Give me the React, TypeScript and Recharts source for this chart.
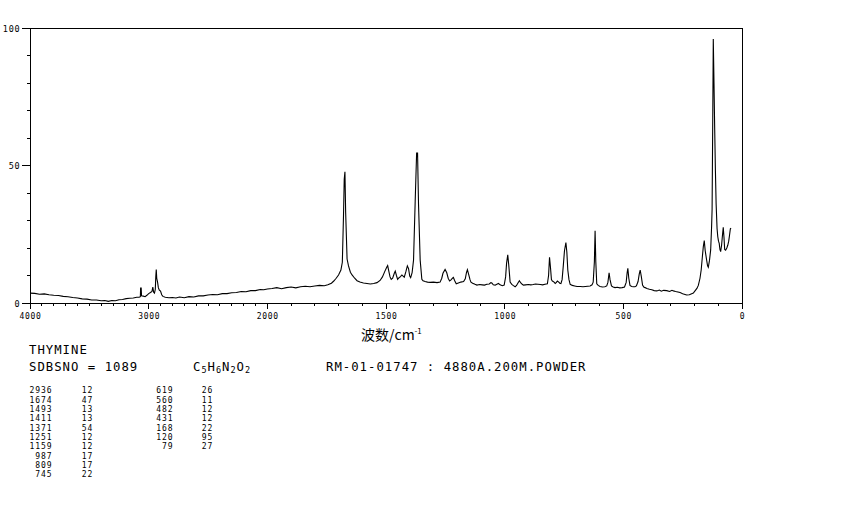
import React from 'react';
import { LineChart, Line, XAxis, YAxis, ReferenceArea } from 'recharts';

// Raman spectrum of thymine: [wavenumber (cm-1), relative intensity]
const ramanPoints: [number, number][] = [
  [4000, 3.6], [3960, 3.5], [3920, 3.2], [3880, 3.3], [3840, 3.0], [3800, 2.8], [3760, 2.7],
  [3720, 2.4], [3680, 2.3], [3640, 2.0], [3600, 1.8], [3560, 1.5], [3520, 1.4], [3480, 1.1],
  [3440, 1.1], [3400, 0.8], [3370, 0.9], [3340, 0.6], [3310, 0.9], [3280, 0.8], [3250, 1.2],
  [3220, 1.3], [3190, 1.6], [3160, 1.7], [3130, 1.8], [3100, 2.1], [3080, 2.1], [3070, 2.3],
  [3068, 5.4], [3063, 5.4], [3060, 2.6], [3045, 2.5], [3030, 2.3], [3015, 2.8], [3000, 3.4],
  [2985, 3.8], [2972, 4.2], [2965, 5.8], [2958, 3.9], [2951, 3.6], [2944, 5.0], [2940, 9.5],
  [2936, 12.2], [2932, 9.0], [2925, 7.6], [2918, 5.5], [2910, 4.7], [2900, 4.3], [2890, 3.0],
  [2880, 2.4], [2860, 2.1], [2830, 1.9], [2800, 2.0], [2770, 1.8], [2740, 2.2], [2700, 1.9],
  [2660, 2.3], [2620, 2.2], [2580, 2.6], [2540, 2.6], [2500, 2.9], [2460, 3.1], [2420, 3.0],
  [2380, 3.4], [2340, 3.4], [2300, 3.7], [2260, 3.8], [2220, 4.2], [2180, 4.1], [2140, 4.5],
  [2100, 4.5], [2060, 4.9], [2030, 4.8], [2000, 5.1],
  [1980, 5.3], [1960, 5.6], [1940, 5.2], [1920, 5.6], [1900, 5.8], [1880, 5.5], [1860, 5.9],
  [1840, 6.1], [1820, 5.9], [1800, 6.2], [1780, 6.4], [1760, 6.3], [1745, 6.6], [1730, 7.2],
  [1720, 8.0], [1710, 9.0], [1700, 10.2], [1690, 12.0], [1684, 14.8], [1679, 32], [1676, 45],
  [1673, 47.7], [1670, 33], [1664, 16], [1658, 13.5], [1650, 11.2], [1643, 10.2], [1632, 9.0],
  [1622, 8.1], [1610, 7.6], [1595, 7.3], [1580, 7.1], [1566, 6.9], [1552, 7.1], [1538, 7.4],
  [1525, 8.2], [1515, 9.5], [1505, 11.5], [1497, 13.0], [1493, 13.6], [1488, 11.5], [1483, 9.5],
  [1478, 8.6], [1472, 9.0], [1465, 10.8], [1461, 11.6], [1456, 10.0], [1451, 8.6], [1445, 9.2],
  [1439, 9.6], [1433, 10.2], [1428, 9.8], [1423, 9.4], [1416, 11.5], [1410, 13.5], [1405, 12.5],
  [1400, 9.8], [1396, 9.2], [1390, 11.0], [1384, 15.6], [1377, 37], [1371, 54.5], [1367, 54.5],
  [1363, 36], [1356, 15.6], [1349, 8.6], [1344, 8.1], [1335, 7.8], [1325, 7.6], [1314, 7.5],
  [1300, 7.6], [1285, 7.4], [1272, 7.6], [1265, 9.0], [1260, 10.8], [1251, 12.2], [1244, 11.0],
  [1238, 9.0], [1232, 8.0], [1226, 8.4], [1220, 9.0], [1216, 9.3], [1211, 8.2], [1204, 7.0],
  [1195, 7.3], [1185, 7.6], [1173, 7.8], [1166, 8.8], [1161, 11.0], [1157, 12.1], [1152, 10.5],
  [1146, 8.5], [1142, 7.6], [1135, 7.2], [1125, 6.8], [1117, 6.5], [1105, 6.7], [1095, 6.6],
  [1085, 6.5], [1075, 6.8], [1065, 6.9], [1058, 7.4], [1054, 7.3], [1048, 6.6], [1040, 6.5],
  [1033, 6.8], [1026, 7.1], [1019, 6.6], [1010, 6.3], [1002, 6.5], [996, 9.5], [992, 14.4],
  [987, 17.5], [983, 14.0], [977, 7.6], [970, 6.8], [963, 6.3], [956, 5.9], [950, 6.4],
  [944, 7.3], [938, 8.1], [932, 7.3], [926, 6.8], [921, 6.5], [912, 6.6], [900, 6.7],
  [890, 6.6], [880, 6.7], [870, 6.9], [860, 6.8], [850, 6.7], [840, 6.6], [830, 6.8],
  [820, 7.0], [815, 10.0], [811, 16.6], [807, 13.0], [803, 8.5], [799, 8.0], [793, 7.7],
  [787, 7.1], [782, 7.5], [778, 8.0], [772, 7.6], [768, 7.2], [763, 7.1], [758, 8.5],
  [753, 13.5], [748, 19.0], [742, 22.0], [738, 18.5], [734, 12.0], [729, 8.5], [724, 6.8],
  [715, 6.4], [705, 6.2], [695, 6.0], [682, 6.0], [670, 5.9], [660, 6.0], [650, 6.1],
  [640, 6.2], [632, 6.6], [627, 7.6], [622, 15], [619, 26.3], [616, 15], [612, 7.0],
  [606, 6.4], [598, 6.0], [588, 5.8], [578, 5.9], [570, 6.2], [565, 7.5], [560, 11.0],
  [556, 8.5], [550, 6.2], [543, 5.8], [535, 5.6], [525, 5.7], [515, 5.5], [505, 5.6],
  [495, 5.8], [488, 7.5], [484, 11.0], [481, 12.6], [477, 9.0], [472, 6.4], [465, 6.0],
  [458, 5.9], [451, 5.9], [445, 6.2], [438, 7.8], [433, 10.5], [429, 12.0], [424, 9.5],
  [419, 6.5], [414, 5.8], [406, 5.5], [401, 5.3], [390, 5.0], [380, 4.8], [370, 4.5],
  [359, 4.4], [348, 4.7], [340, 4.3], [330, 4.6], [317, 4.5], [305, 4.2], [295, 4.6],
  [289, 4.4], [280, 4.2], [270, 4.0], [261, 3.8], [250, 3.4], [240, 3.1], [233, 2.9],
  [222, 3.0], [212, 3.4], [205, 3.6], [198, 4.4], [190, 5.3], [184, 6.4], [177, 9.0],
  [172, 12.0], [167, 16.8], [163, 20.5], [159, 22.7], [155, 19.0], [149, 15.6], [145, 13.5],
  [142, 13.0], [137, 15.5], [132, 19.3], [128, 28], [126, 34], [123, 70], [121, 96],
  [118, 80], [115, 63], [112, 48], [109, 36], [105, 27], [102, 24.1], [99, 22.5], [96, 21.7],
  [93, 19.5], [90, 18.7], [86, 21], [83, 24], [79, 27.5], [76, 24], [73, 19.5], [69, 19.2],
  [64, 20.0], [60, 21.0], [56, 22.5], [52, 25.0], [49, 27.0], [46, 27.2],
];

// Peak table
const peakWavenumbers = [2936, 1674, 1493, 1411, 1371, 1251, 1159, 987, 809, 745, 619, 560, 482, 431, 168, 120, 79];
const peakIntensities = [12, 47, 13, 13, 54, 12, 12, 17, 17, 22, 26, 11, 12, 12, 22, 95, 27];

const xMajorLabels = [4000, 3000, 2000, 1500, 1000, 500, 0];
const yMajorLabels = [0, 50, 100];

const compoundName = 'THYMINE';
const sdbsLine = 'SDBSNO = 1089';
const formulaParts: [string, string][] = [['C', '5'], ['H', '6'], ['N', '2'], ['O', '2']];
const conditions = 'RM-01-01747 : 4880A.200M.POWDER';
const xAxisTitle = '波数/cm';
const xAxisTitleSup = '-1';

// two-scale wavenumber axis: above 2000 cm-1 compressed by half
const toPlotX = (wn: number) => (wn <= 2000 ? wn : 2000 + (wn - 2000) / 2);
const fromPlotX = (p: number) => (p <= 2000 ? p : 2000 + (p - 2000) * 2);

const data = ramanPoints.map(([wn, v]) => ({ xp: toPlotX(wn), y: v }));

const xTicks: number[] = [];
for (let wn = 0; wn <= 4000; wn += 100) xTicks.push(toPlotX(wn));
const yTicks: number[] = [];
for (let v = 0; v <= 100; v += 10) yTicks.push(v);

const MONO = "'DejaVu Sans Mono', monospace";

const XTick = (props: any) => {
  const { x, y, payload } = props;
  const wn = Math.round(fromPlotX(payload.value));
  const major = xMajorLabels.includes(wn);
  return (
    <g>
      <line x1={x} y1={y} x2={x} y2={y + (major ? 6 : 3)} stroke="#000" shapeRendering="crispEdges" />
      {major && (
        <text x={x + 0.5} y={y + 16.3} textAnchor="middle" fontFamily={MONO} fontSize={8} letterSpacing={0.7} fill="#000">
          {wn}
        </text>
      )}
    </g>
  );
};

const YTick = (props: any) => {
  const { x, y, payload } = props;
  const v = payload.value;
  const major = yMajorLabels.includes(v);
  return (
    <g>
      <line x1={x - (major ? 8 : 3.5)} y1={y} x2={x} y2={y} stroke="#000" shapeRendering="crispEdges" />
      {major && (
        <text x={x - 9.5} y={y + 3.5} textAnchor="end" fontFamily={MONO} fontSize={8.5} letterSpacing={0.8} fill="#000">
          {v}
        </text>
      )}
    </g>
  );
};

export default function App() {
  const leftRows = peakWavenumbers.slice(0, 10).map((wn, i) => [wn, peakIntensities[i]]);
  const rightRows = peakWavenumbers.slice(10).map((wn, i) => [wn, peakIntensities[i + 10]]);
  const rowY = (i: number) => 393.3 + 9.33 * i;
  return (
    <div style={{ position: 'absolute', left: 0, top: 0, width: 850, height: 510, background: '#fff' }}>
      <LineChart width={850} height={510} data={data} margin={{ top: 28, right: 108, bottom: 177, left: 0 }}>
        <XAxis
          dataKey="xp"
          type="number"
          domain={[0, 3000]}
          reversed
          ticks={xTicks}
          interval={0}
          tickSize={0}
          tickMargin={0}
          tickLine={false}
          tick={<XTick />}
          height={30}
          axisLine={{ stroke: '#000', shapeRendering: 'crispEdges' }}
        />
        <YAxis
          type="number"
          domain={[0, 100]}
          ticks={yTicks}
          interval={0}
          tickSize={0}
          tickMargin={0}
          tickLine={false}
          tick={<YTick />}
          width={30}
          axisLine={{ stroke: '#000', shapeRendering: 'crispEdges' }}
        />
        <ReferenceArea x1={0} x2={3000} y1={0} y2={100} fill="none" fillOpacity={0} stroke="#000" strokeWidth={1} shapeRendering="crispEdges" />
        <Line dataKey="y" type="linear" stroke="#000" strokeWidth={1.1} dot={false} isAnimationActive={false} />
      </LineChart>
      <svg width={850} height={510} style={{ position: 'absolute', left: 0, top: 0, pointerEvents: 'none' }}>
        <text x={361} y={340} fontFamily="'Noto Sans CJK SC', sans-serif" fontSize={14} fill="#000">
          {xAxisTitle}
          <tspan fontSize={8} dy={-6}>{xAxisTitleSup}</tspan>
        </text>
        <g fontFamily={MONO} fontSize={12.3} letterSpacing={1} fill="#000">
          <text x={29} y={353.5}>{compoundName}</text>
          <text x={29} y={370.7}>{sdbsLine}</text>
          <text x={193} y={370.7}>
            {formulaParts.map(([el, n], i) => (
              <React.Fragment key={i}>
                <tspan fontSize={12.3} dy={i === 0 ? 0 : -2.5}>{el}</tspan>
                <tspan fontSize={8.5} dy={2.5}>{n}</tspan>
              </React.Fragment>
            ))}
          </text>
          <text x={326} y={370.7}>{conditions}</text>
        </g>
        <g fontFamily={MONO} fontSize={8} letterSpacing={1} fill="#000">
          {leftRows.map(([wn, v], i) => (
            <React.Fragment key={'l' + i}>
              <text x={52.7} y={rowY(i)} textAnchor="end">{wn}</text>
              <text x={81.7} y={rowY(i)}>{v}</text>
            </React.Fragment>
          ))}
          {rightRows.map(([wn, v], i) => (
            <React.Fragment key={'r' + i}>
              <text x={173.7} y={rowY(i)} textAnchor="end">{wn}</text>
              <text x={201.7} y={rowY(i)}>{v}</text>
            </React.Fragment>
          ))}
        </g>
      </svg>
    </div>
  );
}
